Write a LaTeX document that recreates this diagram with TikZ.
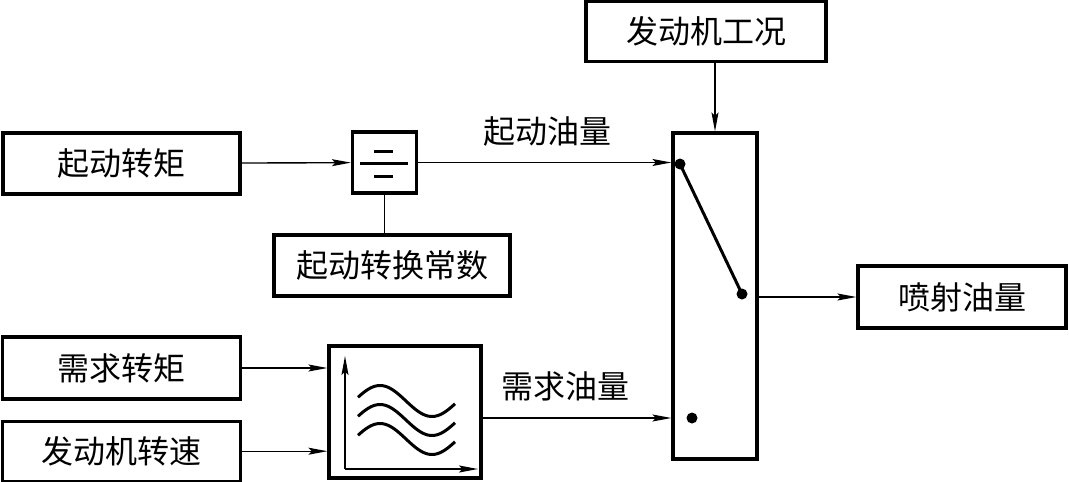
\documentclass[tikz,border=0pt]{standalone}
\usepackage{fontspec}
\setmainfont{Noto Sans CJK SC}
\usepackage{tikz}
\usetikzlibrary{arrows.meta,positioning}

\begin{document}
\begin{tikzpicture}[x=1pt, y=-1pt, node distance = 19pt and 0pt,
                    block/.style = {draw, line width=3.2pt, inner sep=0pt, font=\fontsize{32}{38}\selectfont},
                    lbl/.style = {inner sep=0pt, font=\fontsize{32}{38}\selectfont},
                    arr/.style = {-{Stealth[length=19pt,width=7pt,inset=3.5pt]}, line width=1.4pt},
                    ln/.style = {line width=1.4pt}]
\useasboundingbox (0,0) rectangle (1069,482);
    \node[block, minimum width=237pt, minimum height=61pt] (qz) at (121.5,163.5) {起动转矩};
\node[block, minimum width=64pt, minimum height=61pt] (div) at (384.5,162.5) {};
\node[block, minimum width=236pt, minimum height=61pt] (hc) at (392,265.5) {起动转换常数};
\node[block, minimum width=240pt, minimum height=60pt] (gk) at (706,31.5) {发动机工况};
\node[block, minimum width=84pt, minimum height=326pt] (sw) at (715,296) {};
\node[block, minimum width=208pt, minimum height=62pt] (pl) at (962,297) {喷射油量};
\node[block, minimum width=238pt, minimum height=62pt] (xz) at (121.5,368) {需求转矩};
\node[block, minimum width=238pt, minimum height=60pt, below= of xz] (zs) {发动机转速};
\node[block, minimum width=152pt, minimum height=132pt] (map) at (405,412) {};
\node[lbl] (qy) at (547,131) {起动油量};
\node[lbl] (xy) at (565,386.5) {需求油量};
\coordinate (d1) at (680,164);
\coordinate (d2) at (742,294);
\coordinate (d3) at (692,418);
\coordinate (o) at (345,469);
    \draw[line width=3pt] (360,163) -- (408,163) (374,151) -- (393,151) (374,176) -- (393,176);
\draw[arr] (o) -- (345,356);
\draw[arr] (o) -- (478,469);
\foreach \k in {0,19,38}
  \draw[line width=3pt] plot[domain=358:455, samples=40, smooth] (\x, {401+\k-15.5*sin(3.4615*(\x-354))});
    \path[every node/.style={sloped,anchor=south,auto=false}]
(qz) edge[arr] (div)
(div) edge[arr] (div -| sw.west)
(div.south) edge[ln] (div.south |- hc.north)
(gk.south -| sw.north) edge[arr] (sw.north)
(sw.east |- pl.west) edge[arr] (pl)
(xz) edge[arr] (xz -| map.west)
(zs) edge[arr] (zs -| map.west)
(map.east |- d3) edge[arr] (sw.west |- d3);
\draw[line width=3pt] (d1) -- (d2);
\foreach \d in {d1,d2,d3} \fill (\d) circle (5.5pt);
\end{tikzpicture}
\end{document}
